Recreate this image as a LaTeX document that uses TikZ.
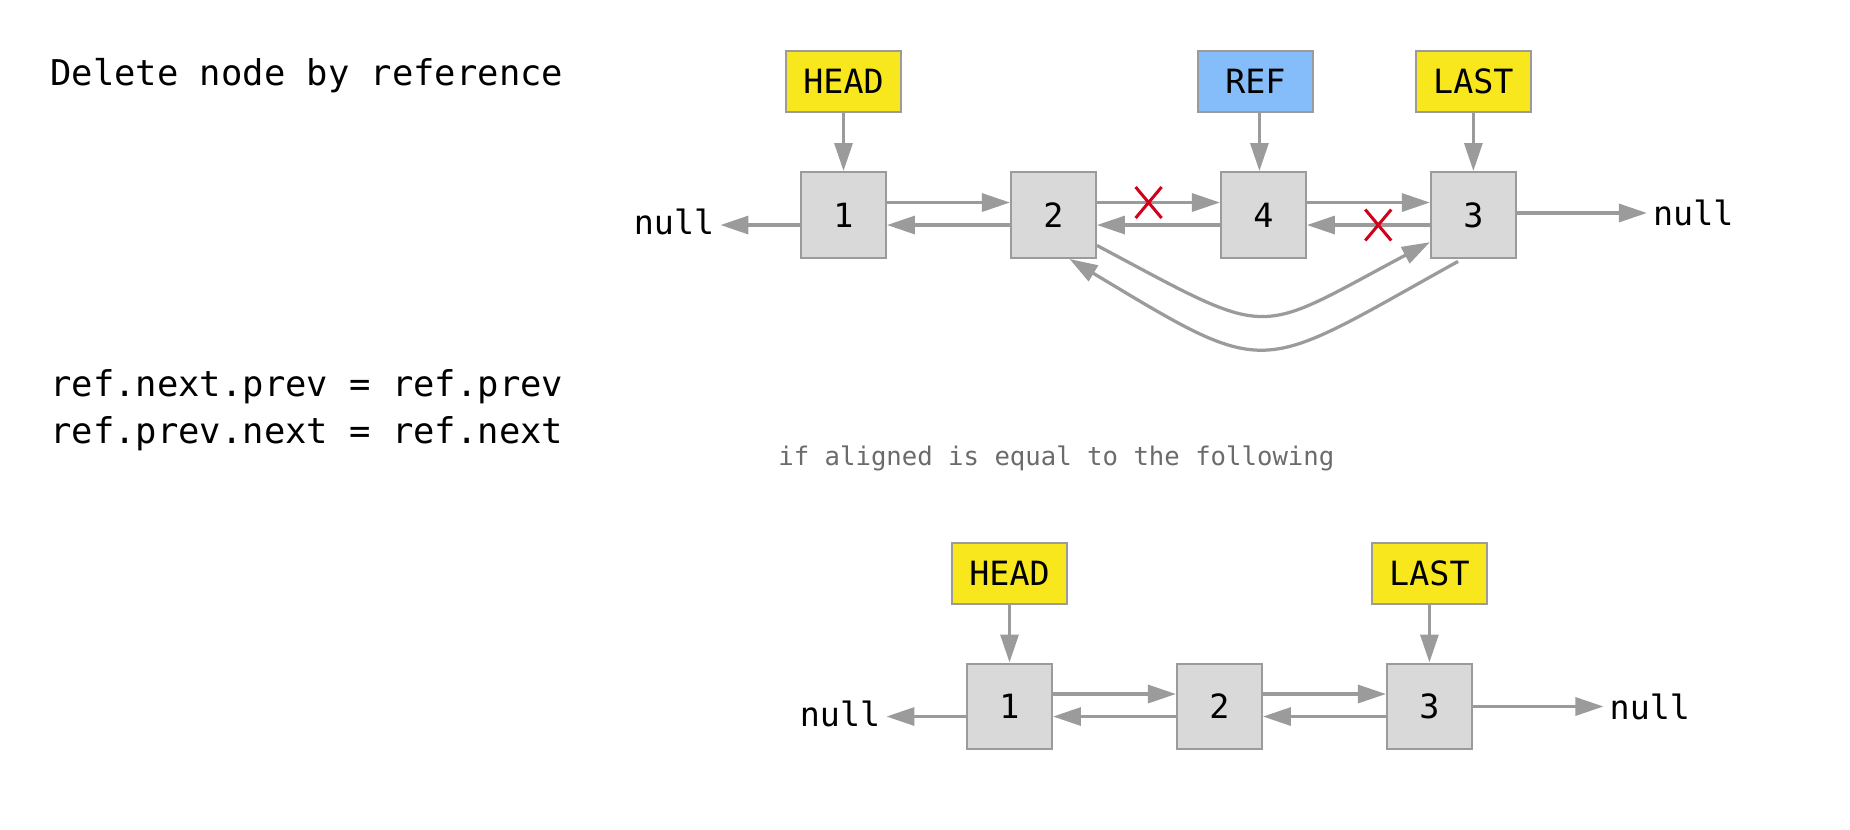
\documentclass[tikz,border=0pt]{standalone}
\usepackage{fontspec}
\setmonofont{DejaVu Sans Mono}
\usepackage{tikz}
\usetikzlibrary{shapes,arrows.meta}
\definecolor{linegray}{HTML}{9B9B9B}
\definecolor{boxgray}{HTML}{D9D9D9}
\definecolor{ptryellow}{HTML}{F8E71C}
\definecolor{refblue}{HTML}{84BDF9}
\definecolor{crossred}{HTML}{D0021B}
\definecolor{notegray}{HTML}{6B6B6B}
\tikzstyle{line} = [draw=linegray, line width=0.065cm, -{Triangle[length=0.56cm,width=0.36cm]}]
\tikzstyle{item} = [draw=linegray, fill=boxgray, line width=0.04cm, rectangle, text centered, minimum width=1.7cm, minimum height=1.72cm, font=\ttfamily\fontsize{19}{22}\selectfont]
\tikzstyle{pointer} = [draw=linegray, fill=ptryellow, line width=0.04cm, rectangle, text centered, minimum width=2.3cm, minimum height=1.22cm, font=\ttfamily\fontsize{19}{22}\selectfont]
\tikzstyle{nil} = [font=\ttfamily\fontsize{19}{22}\selectfont]
\tikzstyle{cut} = [draw=crossred, cross out, line width=0.06cm, minimum width=0.46cm, minimum height=0.56cm, inner sep=0pt, anchor=center]
\tikzstyle{code} = [anchor=west, inner sep=0pt, font=\ttfamily\fontsize{20.2}{24}\selectfont]

\begin{document}
\begin{tikzpicture}[x=0.02cm, y=0.02cm, node distance=4.2cm]
        \useasboundingbox (0,0) rectangle (1850,-830);
        \node[code] (title) at (50,-76) {Delete node by reference};
        \node[code] (stepA) at (50,-387) {ref.next.prev = ref.prev};
        \node[code] (stepB) at (50,-434) {ref.prev.next = ref.next};
        \node[code, font=\ttfamily\fontsize{14.6}{18}\selectfont, text=notegray] (note) at (778,-458) {if aligned is equal to the following};
        % before
        \node[item] (a1) at (843.5,-215) {1};
        \node[item, right of=a1] (a2) {2};
        \node[item, right of=a2] (a4) {4};
        \node[item, right of=a4] (a3) {3};
        \node[pointer, above of=a1, node distance=2.67cm] (ahead) {HEAD};
        \node[pointer, fill=refblue, above of=a4, node distance=2.67cm, xshift=-0.16cm] (aref) {REF};
        \node[pointer, above of=a3, node distance=2.67cm] (alast) {LAST};
        \node[nil, left of=a1, node distance=3.39cm, yshift=-0.14cm] (anullL) {null};
        \node[nil, right of=a3, node distance=4.4cm, yshift=0.04cm] (anullR) {null};
        \path[line] (ahead) -- (a1);
        \path[line] ([xshift=0.08cm]aref.south) -- ([xshift=0.08cm]aref.south |- a4.north);
        \path[line] (alast) -- (a3);
        \path[line] (a1.193) -- (a1.193 -| anullL.east);
        \path[line] (a1.16) -- (a2.164);
        \path[line] (a2.193) -- (a1.-13);
        \path[line] (a2.16) -- node[cut, pos=0.42] {} (a4.164);
        \path[line] (a4.193) -- (a2.-13);
        \path[line] (a4.16) -- (a3.164);
        \path[line] (a3.193) -- node[cut, pos=0.42] {} (a4.-13);
        \path[line] (a3.east |- anullR) -- (anullR);
        \path[line] (a2.-35) to[out=-28, in=-152, looseness=1.55] (a3.212);
        \path[line, shorten <=0.1cm] (a3.-104) to[out=-151, in=-31, looseness=1.55] (a2.-70);
        % after
        \node[item] (b1) at (1009.5,-706.5) {1};
        \node[item, right of=b1] (b2) {2};
        \node[item, right of=b2] (b3) {3};
        \node[pointer, above of=b1, node distance=2.67cm] (bhead) {HEAD};
        \node[pointer, above of=b3, node distance=2.67cm] (blast) {LAST};
        \node[nil, left of=b1, node distance=3.39cm, yshift=-0.15cm] (bnullL) {null};
        \node[nil, right of=b3, node distance=4.41cm] (bnullR) {null};
        \path[line] (bhead) -- (b1);
        \path[line] (blast) -- (b3);
        \path[line] (b1.193) -- (b1.193 -| bnullL.east);
        \path[line] (b1.16) -- (b2.164);
        \path[line] (b2.193) -- (b1.-13);
        \path[line] (b2.16) -- (b3.164);
        \path[line] (b3.193) -- (b2.-13);
        \path[line] (b3) -- (bnullR);
    \end{tikzpicture}
\end{document}
